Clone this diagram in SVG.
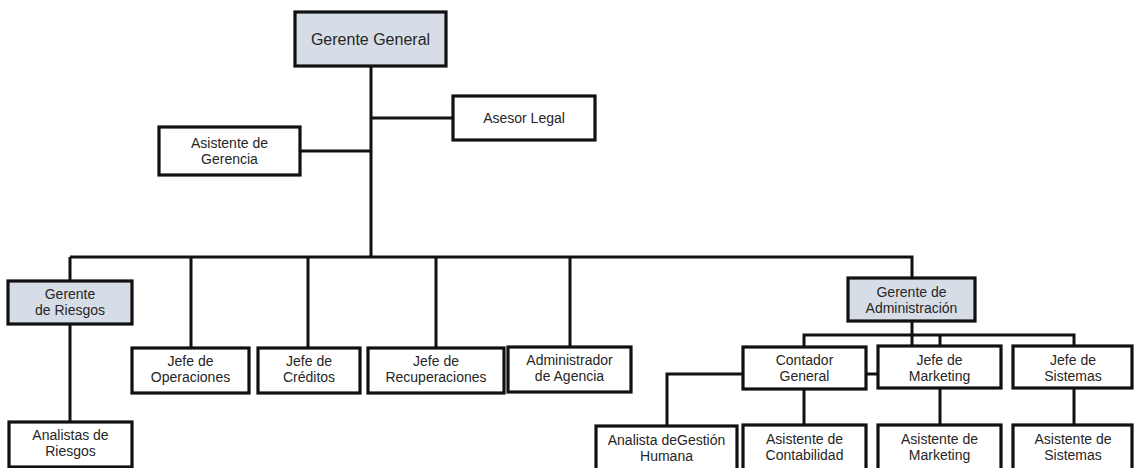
<svg xmlns="http://www.w3.org/2000/svg" width="1134" height="468" viewBox="0 0 1134 468">
<style>
.box{fill:#ffffff;stroke:#111111;stroke-width:3.2}
.hi{fill:#d7dde7}
.ln{fill:none;stroke:#111111;stroke-width:3}
text{font-family:"Liberation Sans",Arial,sans-serif;font-size:14px;fill:#262626;text-anchor:middle}
.big{font-size:16px}
</style>
<rect width="1134" height="468" fill="#ffffff"/>
<g id="connectors">
<path class="ln" d="M371 66V257"/>
<path class="ln" d="M371 118H453"/>
<path class="ln" d="M300 151H371"/>
<path class="ln" d="M70 257H912V278"/>
<path class="ln" d="M70 257V281M70 324V422"/>
<path class="ln" d="M191 257V348M308 257V348M436 257V348M570 257V347"/>
<path class="ln" d="M912 321V346"/>
<path class="ln" d="M804 347V335H1074V346M940 335V346"/>
<path class="ln" d="M743 374H667V426M866 374H878"/>
<path class="ln" d="M804 389V425M940 388V425M1074 388V425"/>
</g>
<g id="gerente-general"><rect class="box hi" x="295" y="12" width="151" height="54"/><text class="big" x="370.5" y="45">Gerente General</text></g>
<g id="asesor-legal"><rect class="box" x="453" y="96" width="142" height="44"/><text x="524" y="123">Asesor Legal</text></g>
<g id="asistente-gerencia"><rect class="box" x="159" y="127" width="141" height="48"/><text x="229.5" y="148">Asistente de</text><text x="229.5" y="164">Gerencia</text></g>
<g id="gerente-riesgos"><rect class="box hi" x="8" y="281" width="124" height="43"/><text x="70" y="299">Gerente</text><text x="70" y="315">de Riesgos</text></g>
<g id="analistas-riesgos"><rect class="box" x="9" y="422" width="123" height="45"/><text x="70.5" y="440">Analistas de</text><text x="70.5" y="456">Riesgos</text></g>
<g id="jefe-operaciones"><rect class="box" x="132" y="348" width="117" height="45"/><text x="190.5" y="366">Jefe de</text><text x="190.5" y="382">Operaciones</text></g>
<g id="jefe-creditos"><rect class="box" x="258" y="348" width="102" height="45"/><text x="309" y="366">Jefe de</text><text x="309" y="382">Créditos</text></g>
<g id="jefe-recuperaciones"><rect class="box" x="368" y="348" width="136" height="45"/><text x="436" y="366">Jefe de</text><text x="436" y="382">Recuperaciones</text></g>
<g id="administrador-agencia"><rect class="box" x="508" y="347" width="123" height="45"/><text x="569.5" y="365">Administrador</text><text x="569.5" y="381">de Agencia</text></g>
<g id="gerente-administracion"><rect class="box hi" x="848" y="278" width="127" height="43"/><text x="911.5" y="297">Gerente de</text><text x="911.5" y="313">Administración</text></g>
<g id="contador-general"><rect class="box" x="743" y="347" width="123" height="42"/><text x="804.5" y="365">Contador</text><text x="804.5" y="381">General</text></g>
<g id="jefe-marketing"><rect class="box" x="878" y="346" width="123" height="42"/><text x="939.5" y="365">Jefe de</text><text x="939.5" y="381">Marketing</text></g>
<g id="jefe-sistemas"><rect class="box" x="1013" y="346" width="119" height="42"/><text x="1073" y="365">Jefe de</text><text x="1073" y="381">Sistemas</text></g>
<g id="analista-gestion"><rect class="box" x="596" y="426" width="141" height="45"/><text x="666.5" y="445">Analista deGestión</text><text x="666.5" y="461">Humana</text></g>
<g id="asistente-contabilidad"><rect class="box" x="743" y="425" width="123" height="46"/><text x="804.5" y="444">Asistente de</text><text x="804.5" y="460">Contabilidad</text></g>
<g id="asistente-marketing"><rect class="box" x="878" y="425" width="123" height="46"/><text x="939.5" y="444">Asistente de</text><text x="939.5" y="460">Marketing</text></g>
<g id="asistente-sistemas"><rect class="box" x="1013" y="425" width="119" height="46"/><text x="1073" y="444">Asistente de</text><text x="1073" y="460">Sistemas</text></g>
</svg>
